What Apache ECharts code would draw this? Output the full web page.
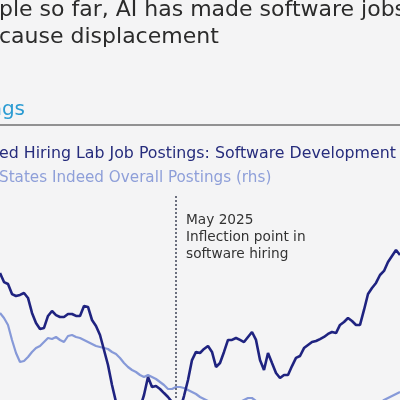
<!DOCTYPE html>
<html>
<head>
<meta charset="utf-8">
<script src="https://cdn.jsdelivr.net/npm/echarts@6/dist/echarts.min.js"></script>
<style>
html,body{margin:0;padding:0;background:#f4f4f5;}
#c{width:400px;height:400px;}
</style>
</head>
<body>
<div id="c"></div>
<script>
const dates = [
'2024-12-20','2024-12-23','2024-12-26','2024-12-29','2025-01-01','2025-01-04','2025-01-07','2025-01-10','2025-01-13','2025-01-16',
'2025-01-19','2025-01-22','2025-01-25','2025-01-28','2025-01-31','2025-02-03','2025-02-06','2025-02-09','2025-02-12','2025-02-15',
'2025-02-18','2025-02-21','2025-02-24','2025-02-27','2025-03-02','2025-03-05','2025-03-08','2025-03-11','2025-03-14','2025-03-17',
'2025-03-20','2025-03-23','2025-03-26','2025-03-29','2025-04-01','2025-04-04','2025-04-07','2025-04-10','2025-04-13','2025-04-16',
'2025-04-19','2025-04-22','2025-04-25','2025-04-28','2025-05-01','2025-05-04','2025-05-07','2025-05-10','2025-05-13','2025-05-16',
'2025-05-19','2025-05-22','2025-05-25','2025-05-28','2025-05-31','2025-06-03','2025-06-06','2025-06-09','2025-06-12','2025-06-15',
'2025-06-18','2025-06-21','2025-06-24','2025-06-27','2025-06-30','2025-07-03','2025-07-06','2025-07-09','2025-07-12','2025-07-15',
'2025-07-18','2025-07-21','2025-07-24','2025-07-27','2025-07-30','2025-08-02','2025-08-05','2025-08-08','2025-08-11','2025-08-14',
'2025-08-17','2025-08-20','2025-08-23','2025-08-26','2025-08-29','2025-09-01','2025-09-04','2025-09-07','2025-09-10','2025-09-13',
'2025-09-16','2025-09-19','2025-09-22','2025-09-25','2025-09-28','2025-10-01','2025-10-04','2025-10-07','2025-10-10','2025-10-13',
'2025-10-16'
];

const softwareDevPostings = [
69.73,69.13,69.00,68.33,68.20,68.27,68.40,68.07,67.07,66.40,
66.00,66.07,66.87,67.20,66.93,66.80,66.80,67.00,67.00,66.87,
66.87,67.53,67.47,66.60,66.20,65.60,64.60,63.60,62.27,61.13,
60.27,59.73,59.47,59.47,59.93,60.73,61.60,62.80,62.13,62.20,
62.00,61.73,61.47,61.13,60.73,60.60,61.53,62.60,63.93,64.47,
64.40,64.67,64.87,64.47,63.47,63.73,64.47,65.27,65.27,65.40,
65.27,65.13,65.47,65.80,65.27,63.93,63.27,64.40,63.73,63.07,
62.73,62.93,62.93,63.53,64.07,64.20,64.73,64.93,65.13,65.20,
65.33,65.47,65.67,65.80,65.73,66.27,66.47,66.73,66.53,66.27,
66.27,67.27,68.33,68.73,69.07,69.60,69.87,70.47,70.87,71.27,
70.93
];

const overallPostings = [
107.24,107.04,106.76,106.16,105.64,105.28,105.32,105.48,105.68,105.84,
105.92,106.08,106.24,106.20,106.28,106.16,106.08,106.32,106.36,106.28,
106.24,106.16,106.08,106.00,105.92,105.88,105.84,105.80,105.68,105.60,
105.44,105.24,105.08,104.96,104.88,104.76,104.68,104.76,104.68,104.60,
104.48,104.36,104.20,104.20,104.28,104.28,104.24,104.16,104.08,104.00,
103.88,103.80,103.72,103.64,103.56,103.52,103.48,103.52,103.56,103.60,
103.68,103.76,103.84,103.84,103.72,103.60,103.52,103.44,103.40,103.36,
103.36,103.36,103.32,103.28,103.28,103.32,103.32,103.36,103.36,103.32,
103.32,103.36,103.40,103.40,103.36,103.36,103.32,103.32,103.36,103.40,
103.40,103.44,103.46,103.50,103.56,103.64,103.76,103.84,103.92,104.00,
104.08
];

const inflectionDate = '2025-05-01';
const titleLines = ['ple so far, AI has made software jobs', 'cause displacement'];
const subtitleText = 'ngs';
const legendNames = ['ed Hiring Lab Job Postings: Software Development', 'States Indeed Overall Postings (rhs)'];
const annotationLines = ['May 2025', 'Inflection point in', 'software hiring'];

const DARK = '#1f2380';
const LIGHT = '#8699d8';
const FONT = '"DejaVu Sans", "Liberation Sans", sans-serif';

const chart = echarts.init(document.getElementById('c'), null, {renderer: 'canvas'});

function txt(text, x, y, size, fill, align) {
  return {
    type: 'text', x: x, y: y, silent: true,
    style: {text: text, fill: fill, font: size + 'px ' + FONT, align: align || 'left', verticalAlign: 'middle'}
  };
}

chart.setOption({
  backgroundColor: '#f4f4f5',
  animation: false,
  grid: {left: 0, right: 0, top: 194, height: 300, containLabel: false, outerBoundsMode: 'none'},
  xAxis: {type: 'category', data: dates, boundaryGap: false, show: false},
  yAxis: [
    {type: 'value', min: 55, max: 75, show: false},
    {type: 'value', min: 100, max: 112, show: false}
  ],
  series: [
    {
      name: 'United States Indeed Overall Postings (rhs)',
      type: 'line', yAxisIndex: 1, data: overallPostings, showSymbol: false,
      lineStyle: {color: LIGHT, width: 2.2}, itemStyle: {color: LIGHT}, z: 2
    },
    {
      name: 'Indeed Hiring Lab Job Postings: Software Development',
      type: 'line', yAxisIndex: 0, data: softwareDevPostings, showSymbol: false,
      lineStyle: {color: DARK, width: 2.6}, itemStyle: {color: DARK}, z: 3,
      markLine: {
        silent: true, symbol: ['none', 'none'], label: {show: false},
        lineStyle: {color: '#4a4f62', type: [2, 2], width: 1.6},
        data: [{xAxis: inflectionDate}]
      }
    }
  ],
  graphic: [
    txt(titleLines[0], -1, 10.7, 22, '#2b2b2b'),
    txt(titleLines[1], -1, 37.4, 22, '#2b2b2b'),
    txt(subtitleText, 25, 110, 20, '#2a9bd2', 'right'),
    {type: 'line', silent: true, shape: {x1: 0, y1: 125, x2: 400, y2: 125}, style: {stroke: '#707070', lineWidth: 1.4}},
    txt(legendNames[0], -1, 154, 15.8, '#262c7c'),
    txt(legendNames[1], -1, 178, 15.2, '#8e9fd9'),
    txt(annotationLines[0], 186, 220, 13.7, '#333333'),
    txt(annotationLines[1], 186, 237.5, 13.7, '#333333'),
    txt(annotationLines[2], 186, 254.5, 13.7, '#333333')
  ]
});
</script>
</body>
</html>
